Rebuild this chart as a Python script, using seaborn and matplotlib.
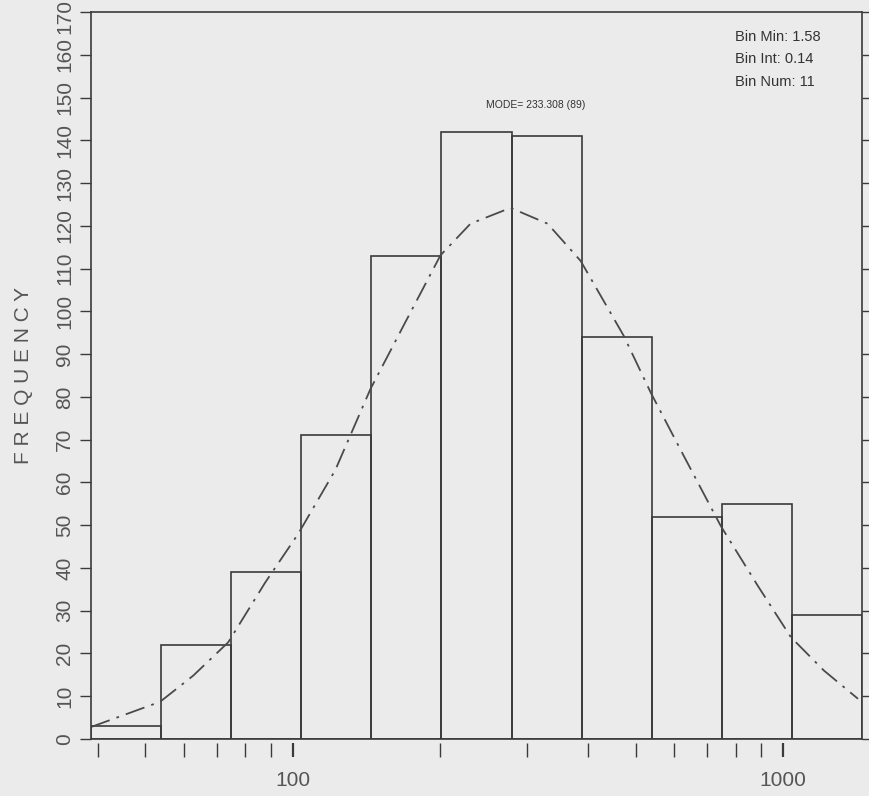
import numpy as np
import pandas as pd
import matplotlib
matplotlib.use("Agg")
import matplotlib.pyplot as plt
import matplotlib.transforms as mtransforms
import seaborn as sns
from matplotlib.ticker import FixedLocator, NullFormatter

# histogram settings printed on the chart (log10 units)
bin_min = 1.58
bin_int = 0.14
bin_num = 11
counts = [3, 22, 39, 71, 113, 142, 141, 94, 52, 55, 29]

# fitted curve (x in log10 units)
curve_log_x = [1.580, 1.718, 1.784, 1.854, 1.928, 1.994, 2.068, 2.138, 2.208,
               2.278, 2.338, 2.418, 2.492, 2.558, 2.644, 2.698, 2.764, 2.838,
               2.912, 2.978, 3.044, 3.112]
curve_freq = [2.8, 8.7, 14.8, 22.6, 36.6, 48.0, 62.9, 81.8, 97.5,
              113.1, 120.5, 124.2, 120.5, 111.8, 94.3, 81.0, 66.2, 49.8,
              35.8, 23.8, 16.0, 9.4]

y_ticks = list(range(0, 180, 10))
x_major = [100, 1000]
x_minor = [40, 50, 60, 70, 80, 90, 200, 300, 400, 500, 600, 700, 800, 900]

sns.set_style("white")
plt.rcParams['font.family'] = ['Liberation Sans', 'DejaVu Sans']
bg = '#ebebeb'
ink = '#3a3a3a'

edges = [round(bin_min + bin_int * i, 2) for i in range(bin_num + 1)]
centers = [(a + b) / 2 for a, b in zip(edges[:-1], edges[1:])]
df = pd.DataFrame({'value': 10 ** np.array(centers), 'count': counts})
curve = pd.DataFrame({'value': 10 ** np.array(curve_log_x), 'freq': curve_freq})

fig = plt.figure(figsize=(8.69, 7.96), dpi=100, facecolor=bg)
ax = fig.add_axes([91 / 869, 1 - 739 / 796, 771 / 869, 727 / 796])
ax.set_facecolor(bg)

sns.histplot(data=df, x='value', weights='count', bins=edges, log_scale=True,
             fill=False, color=ink, linewidth=1.2, ax=ax)
sns.lineplot(data=curve, x='value', y='freq', ax=ax, color='#4a4a4a',
             linewidth=1.3, linestyle=(0, (11, 4, 1.5, 4)))

ax.set_xlim(10 ** edges[0], 10 ** edges[-1])
ax.set_ylim(0, 170)
for s in ax.spines.values():
    s.set_color(ink)
    s.set_linewidth(1.2)

# separate tick ruler below the bars
ax2 = ax.twiny()
ax2.set_xscale('log')
ax2.set_xlim(10 ** 1.588, 10 ** 3.161)
ax2.xaxis.set_ticks_position('bottom')
ax2.spines['bottom'].set_position(('outward', 3))
for s in ax2.spines.values():
    s.set_visible(False)
ax2.xaxis.set_major_locator(FixedLocator(x_major))
ax2.set_xticklabels([str(v) for v in x_major])
ax2.xaxis.set_minor_locator(FixedLocator(x_minor))
ax2.xaxis.set_minor_formatter(NullFormatter())
ax2.tick_params(axis='x', which='major', length=10, width=1.6, color=ink,
                labelsize=15, labelcolor='#555555', pad=10)
ax2.tick_params(axis='x', which='minor', length=10, width=1.0, color=ink)

ax.tick_params(axis='x', which='both', bottom=False, top=False,
               labelbottom=False, labeltop=False)
ax.set_xlabel('')

ax.set_yticks(y_ticks)
ax.set_yticklabels([str(v) for v in y_ticks], rotation=90, va='center')
ax.tick_params(axis='y', which='major', direction='out', length=8, width=1.0,
               color=ink, left=True, right=True, labelsize=15,
               labelcolor='#555555', pad=4)
# keep the top label inside the figure
top_lab = ax.get_yticklabels()[-1]
top_lab.set_transform(top_lab.get_transform() +
                      mtransforms.ScaledTranslation(0, -4 / 100, fig.dpi_scale_trans))
ax.set_ylabel('F R E Q U E N C Y', fontsize=15, color='#555555', labelpad=16)

info = ['Bin Min: 1.58', 'Bin Int: 0.14', 'Bin Num: 11']
for i, line in enumerate(info):
    ax.text(0.835, 0.966 - i * 0.031, line, transform=ax.transAxes,
            fontsize=10.5, color='#333333', va='center', ha='left')
ax.text(0.577, 0.872, 'MODE= 233.308 (89)', transform=ax.transAxes,
        fontsize=7.5, color='#333333', va='center', ha='center')

fig.savefig('out.png', dpi=100, facecolor=bg)
